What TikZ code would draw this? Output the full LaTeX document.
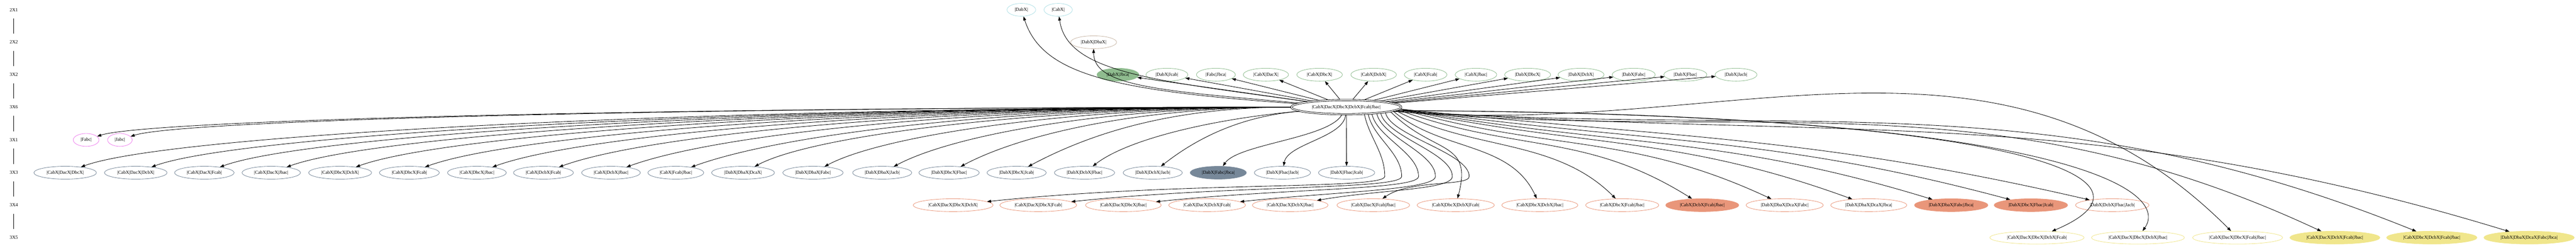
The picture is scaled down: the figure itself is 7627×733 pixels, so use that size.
\documentclass[tikz,border=0pt]{standalone}
\usepackage{fontspec}
\setmainfont{Liberation Serif}
\usetikzlibrary{shapes.geometric}
\usetikzlibrary{arrows.meta}

\definecolor{pblue}{HTML}{B0E0E6}
\definecolor{tanline}{HTML}{C9B8A8}
\definecolor{dsgreen}{HTML}{8FBC8F}
\definecolor{violc}{HTML}{EE82EE}
\definecolor{lsgray}{HTML}{778899}
\definecolor{dsalmon}{HTML}{E9967A}
\definecolor{khakic}{HTML}{F0E68C}

% one pixel of the layout is 0.2pt
\tikzset{
  lattice/.style={ellipse,draw,line width=0.26pt,inner xsep=2.1pt,inner ysep=0.4pt,
    minimum width=10.8pt,minimum height=7.6pt,font=\fontsize{2.8}{3.2}\selectfont},
  ranklab/.style={inner sep=0pt,minimum height=10pt,font=\fontsize{2.8}{3.2}\selectfont},
  twoone/.style={lattice,draw=pblue},
  twotwo/.style={lattice,draw=tanline},
  threetwo/.style={lattice,draw=dsgreen},
  threesix/.style={lattice,draw=black,double,double distance=0.55pt,outer sep=0.4pt,
    inner xsep=2.6pt,minimum height=8.4pt},
  threeone/.style={lattice,draw=violc},
  threethree/.style={lattice,draw=lsgray},
  threefour/.style={lattice,draw=dsalmon},
  threefive/.style={lattice,draw=khakic},
  link/.style={draw,line width=0.26pt,-{Triangle[length=2.4pt,width=1.7pt]}},
  farleft/.style={out=180,in=20,out distance=#1,in distance=56pt},
  midleft/.style={out=180,in=28,out distance=#1,in distance=40pt},
  nearleft/.style={out=185,in=38,out distance=#1,in distance=26pt},
  dropdown/.style={out=-78,in=90,distance=14pt},
  runleft/.style={out=-90,in=6,out distance=8pt,in distance=#1}
}

\begin{document}
\begin{tikzpicture}[x=0.2pt,y=0.2pt,line cap=round,line join=round]
\useasboundingbox (0,0) rectangle (7627,-733);

% rank ladder
\node[ranklab] (L2X1) at (41,-29) {2X1};
\node[ranklab] (L2X2) at (41,-125) {2X2};
\node[ranklab] (L3X2) at (41,-221) {3X2};
\node[ranklab] (L3X6) at (41,-317) {3X6};
\node[ranklab] (L3X1) at (41,-414) {3X1};
\node[ranklab] (L3X3) at (41,-511) {3X3};
\node[ranklab] (L3X4) at (41,-607) {3X4};
\node[ranklab] (L3X5) at (41,-703) {3X5};
\draw[line width=0.26pt] (L2X1) -- (L2X2);
\draw[line width=0.26pt] (L2X2) -- (L3X2);
\draw[line width=0.26pt] (L3X2) -- (L3X6);
\draw[line width=0.26pt] (L3X6) -- (L3X1);
\draw[line width=0.26pt] (L3X1) -- (L3X3);
\draw[line width=0.26pt] (L3X3) -- (L3X4);
\draw[line width=0.26pt] (L3X4) -- (L3X5);

% 2X1 and 2X2
\node[twoone] (DabX) at (3024,-29) {|DabX|};
\node[twoone] (CabX) at (3133,-29) {|CabX|};
\node[twotwo] (DabXDbaX) at (3238,-125) {|DabX|DbaX|};

% 3X2
\node[threetwo,fill=dsgreen] (DabXJbca) at (3310,-221) {|DabX|Jbca|};
\node[threetwo] (DabXJcab) at (3455,-221) {|DabX|Jcab|};
\node[threetwo] (FabcJbca) at (3600,-221) {|Fabc|Jbca|};
\node[threetwo] (CabXDacX) at (3748,-221) {|CabX|DacX|};
\node[threetwo] (CabXDbcX) at (3907,-221) {|CabX|DbcX|};
\node[threetwo] (CabXDcbX) at (4067,-221) {|CabX|DcbX|};
\node[threetwo] (CabXFcab) at (4221,-221) {|CabX|Fcab|};
\node[threetwo] (CabXJbac) at (4370,-221) {|CabX|Jbac|};
\node[threetwo] (DabXDbcX) at (4523,-221) {|DabX|DbcX|};
\node[threetwo] (DabXDcbX) at (4681,-221) {|DabX|DcbX|};
\node[threetwo] (DabXFabc) at (4837,-221) {|DabX|Fabc|};
\node[threetwo] (DabXFbac) at (4990,-221) {|DabX|Fbac|};
\node[threetwo] (DabXJacb) at (5140,-221) {|DabX|Jacb|};

% 3X6
\node[threesix] (Ctr) at (3986,-317) {|CabX|DacX|DbcX|DcbX|Fcab|Jbac|};

% 3X1
\node[threeone] (Fabc) at (255,-414) {|Fabc|};
\node[threeone] (Jabc) at (355,-414) {|Jabc|};

% 3X3
\node[threethree] (CabXDacXDbcX) at (193,-511) {|CabX|DacX|DbcX|};
\node[threethree] (CabXDacXDcbX) at (402,-511) {|CabX|DacX|DcbX|};
\node[threethree] (CabXDacXFcab) at (605,-511) {|CabX|DacX|Fcab|};
\node[threethree] (CabXDacXJbac) at (803,-511) {|CabX|DacX|Jbac|};
\node[threethree] (CabXDbcXDcbX) at (1007,-511) {|CabX|DbcX|DcbX|};
\node[threethree] (CabXDbcXFcab) at (1212,-511) {|CabX|DbcX|Fcab|};
\node[threethree] (CabXDbcXJbac) at (1412,-511) {|CabX|DbcX|Jbac|};
\node[threethree] (CabXDcbXFcab) at (1609,-511) {|CabX|DcbX|Fcab|};
\node[threethree] (CabXDcbXJbac) at (1809,-511) {|CabX|DcbX|Jbac|};
\node[threethree] (CabXFcabJbac) at (2001,-511) {|CabX|Fcab|Jbac|};
\node[threethree] (DabXDbaXDcaX) at (2200,-511) {|DabX|DbaX|DcaX|};
\node[threethree] (DabXDbaXFabc) at (2407,-511) {|DabX|DbaX|Fabc|};
\node[threethree] (DabXDbaXJacb) at (2612,-511) {|DabX|DbaX|Jacb|};
\node[threethree] (DabXDbcXFbac) at (2810,-511) {|DabX|DbcX|Fbac|};
\node[threethree] (DabXDbcXJcab) at (3010,-511) {|DabX|DbcX|Jcab|};
\node[threethree] (DabXDcbXFbac) at (3211,-511) {|DabX|DcbX|Fbac|};
\node[threethree] (DabXDcbXJacb) at (3413,-511) {|DabX|DcbX|Jacb|};
\node[threethree,fill=lsgray] (DabXFabcJbca) at (3607,-511) {|DabX|Fabc|Jbca|};
\node[threethree] (DabXFbacJacb) at (3797,-511) {|DabX|Fbac|Jacb|};
\node[threethree] (DabXFbacJcab) at (3987,-511) {|DabX|Fbac|Jcab|};

% 3X4
\node[threefour] (CabXDacXDbcXDcbX) at (2822,-607) {|CabX|DacX|DbcX|DcbX|};
\node[threefour] (CabXDacXDbcXFcab) at (3074,-607) {|CabX|DacX|DbcX|Fcab|};
\node[threefour] (CabXDacXDbcXJbac) at (3326,-607) {|CabX|DacX|DbcX|Jbac|};
\node[threefour] (CabXDacXDcbXFcab) at (3574,-607) {|CabX|DacX|DcbX|Fcab|};
\node[threefour] (CabXDacXDcbXJbac) at (3820,-607) {|CabX|DacX|DcbX|Jbac|};
\node[threefour] (CabXDacXFcabJbac) at (4066,-607) {|CabX|DacX|Fcab|Jbac|};
\node[threefour] (CabXDbcXDcbXFcab) at (4310,-607) {|CabX|DbcX|DcbX|Fcab|};
\node[threefour] (CabXDbcXDcbXJbac) at (4559,-607) {|CabX|DbcX|DcbX|Jbac|};
\node[threefour] (CabXDbcXFcabJbac) at (4803,-607) {|CabX|DbcX|Fcab|Jbac|};
\node[threefour,fill=dsalmon] (CabXDcbXFcabJbac) at (5040,-607) {|CabX|DcbX|Fcab|Jbac|};
\node[threefour] (DabXDbaXDcaXFabc) at (5284,-607) {|DabX|DbaX|DcaX|Fabc|};
\node[threefour] (DabXDbaXDcaXJbca) at (5533,-607) {|DabX|DbaX|DcaX|Jbca|};
\node[threefour,fill=dsalmon] (DabXDbaXFabcJbca) at (5777,-607) {|DabX|DbaX|Fabc|Jbca|};
\node[threefour,fill=dsalmon] (DabXDbcXFbacJcab) at (6013,-607) {|DabX|DbcX|Fbac|Jcab|};
\node[threefour] (DabXDcbXFbacJacb) at (6254,-607) {|DabX|DcbX|Fbac|Jacb|};

% 3X5
\node[threefive] (CabXDacXDbcXDcbXFcab) at (6031,-703) {|CabX|DacX|DbcX|DcbX|Fcab|};
\node[threefive] (CabXDacXDbcXDcbXJbac) at (6330,-703) {|CabX|DacX|DbcX|DcbX|Jbac|};
\node[threefive] (CabXDacXDbcXFcabJbac) at (6625,-703) {|CabX|DacX|DbcX|Fcab|Jbac|};
\node[threefive,fill=khakic] (CabXDacXDcbXFcabJbac) at (6913,-703) {|CabX|DacX|DcbX|Fcab|Jbac|};
\node[threefive,fill=khakic] (CabXDbcXDcbXFcabJbac) at (7200,-703) {|CabX|DbcX|DcbX|Fcab|Jbac|};
\node[threefive,fill=khakic] (DabXDbaXDcaXFabcJbca) at (7488,-703) {|DabX|DbaX|DcaX|Fabc|Jbca|};

% upwards
\draw[link] (Ctr) to[out=176,in=-72,out distance=110pt,in distance=36pt] (DabX);
\draw[link] (Ctr) to[out=172,in=-82,out distance=90pt,in distance=34pt] (CabX);
\draw[link] (Ctr) to[out=175,in=-90,out distance=84pt,in distance=22pt] (DabXDbaX);
\draw[link] (Ctr) -- (DabXJbca);
\draw[link] (Ctr) -- (DabXJcab);
\draw[link] (Ctr) -- (FabcJbca);
\draw[link] (Ctr) -- (CabXDacX);
\draw[link] (Ctr) -- (CabXDbcX);
\draw[link] (Ctr) -- (CabXDcbX);
\draw[link] (Ctr) -- (CabXFcab);
\draw[link] (Ctr) -- (CabXJbac);
\draw[link] (Ctr) -- (DabXDbcX);
\draw[link] (Ctr) -- (DabXDcbX);
\draw[link] (Ctr) -- (DabXFabc);
\draw[link] (Ctr) -- (DabXFbac);
\draw[link] (Ctr) -- (DabXJacb);

% to the far left
\draw[link] (Ctr) to[out=180,in=18,out distance=360pt,in distance=32pt] (Fabc);
\draw[link] (Ctr) to[out=180,in=18,out distance=350pt,in distance=32pt] (Jabc);
\draw[link] (Ctr) to[farleft=351.6pt] (CabXDacXDbcX);
\draw[link] (Ctr) to[farleft=331pt] (CabXDacXDcbX);
\draw[link] (Ctr) to[farleft=311.2pt] (CabXDacXFcab);
\draw[link] (Ctr) to[farleft=291.8pt] (CabXDacXJbac);
\draw[link] (Ctr) to[farleft=271.8pt] (CabXDbcXDcbX);
\draw[link] (Ctr) to[farleft=251.6pt] (CabXDbcXFcab);
\draw[link] (Ctr) to[farleft=232pt] (CabXDbcXJbac);
\draw[link] (Ctr) to[farleft=212.8pt] (CabXDcbXFcab);
\draw[link] (Ctr) to[farleft=193.2pt] (CabXDcbXJbac);
\draw[link] (Ctr) to[farleft=174.4pt] (CabXFcabJbac);
\draw[link] (Ctr) to[midleft=148.4pt] (DabXDbaXDcaX);
\draw[link] (Ctr) to[midleft=129pt] (DabXDbaXFabc);
\draw[link] (Ctr) to[midleft=109.8pt] (DabXDbaXJacb);
\draw[link] (Ctr) to[midleft=91.2pt] (DabXDbcXFbac);
\draw[link] (Ctr) to[midleft=72.4pt] (DabXDbcXJcab);
\draw[link] (Ctr) to[nearleft=51.2pt] (DabXDcbXFbac);
\draw[link] (Ctr) to[nearleft=36pt] (DabXDcbXJacb);
\draw[link] (Ctr) to[out=-120,in=55,distance=16pt] (DabXFabcJbca);
\draw[link] (Ctr) to[out=-95,in=80,distance=13.4pt] (DabXFbacJacb);
\draw[link] (Ctr) -- (DabXFbacJcab);

% down to 3X4, under the 3X3 row
\draw[link] (Ctr.-22) to[dropdown] (4100,-522) to[runleft=116pt] (CabXDacXDbcXDcbX);
\draw[link] (Ctr.-18) to[dropdown] (4150,-522) to[runleft=96pt] (CabXDacXDbcXFcab);
\draw[link] (Ctr.-15) to[dropdown] (4200,-522) to[runleft=76pt] (CabXDacXDbcXJbac);
\draw[link] (Ctr.-12) to[dropdown] (4250,-522) to[runleft=56pt] (CabXDacXDcbXFcab);
\draw[link] (Ctr.-10) to[dropdown] (4300,-522) to[runleft=37pt,in=10] (CabXDacXDcbXJbac);
\draw[link] (Ctr.-8) to[dropdown] (4350,-522) to[out=-90,in=35,out distance=6pt,in distance=20pt] (CabXDacXFcabJbac);
\draw[link] (Ctr.-6) to[out=-45,in=75,distance=36pt] (CabXDbcXDcbXFcab);
\draw[link] (Ctr.-5) to[out=-40,in=115,distance=37.4pt] (CabXDbcXDcbXJbac);
\draw[link] (Ctr.-4) to[out=-28,in=135,distance=50.8pt] (CabXDbcXFcabJbac);
\draw[link] (Ctr.-3) to[out=-20,in=148,distance=74.8pt] (CabXDcbXFcabJbac);
\draw[link] (Ctr.-2) to[out=-16,in=155,distance=93pt] (DabXDbaXDcaXFabc);
\draw[link] (Ctr.-2) to[out=-12,in=160,distance=112pt] (DabXDbaXDcaXJbca);
\draw[link] (Ctr.-2) to[out=-10,in=163,distance=130.8pt] (DabXDbaXFabcJbca);
\draw[link] (Ctr.-2) to[out=-8,in=165,distance=149pt] (DabXDbcXFbacJcab);
\draw[link] (Ctr.-2) to[out=-6,in=167,distance=167pt] (DabXDcbXFbacJacb);

% down to 3X5
\draw[link] (Ctr.-4) .. controls (6000,-335) and (6440,-530) .. (CabXDacXDbcXDcbXFcab);
\draw[link] (Ctr.-4) .. controls (6100,-332) and (6430,-560) .. (CabXDacXDbcXDcbXJbac);
\draw[link] (Ctr) to[out=-5,in=135,distance=197pt] (CabXDacXDbcXFcabJbac);
\draw[link] (Ctr) to[out=-5,in=155,distance=218pt] (CabXDacXDcbXFcabJbac);
\draw[link] (Ctr) to[out=-4,in=158,distance=240pt] (CabXDbcXDcbXFcabJbac);
\draw[link] (Ctr) to[out=-4,in=163,distance=263pt] (DabXDbaXDcaXFabcJbca);
\end{tikzpicture}
\end{document}
